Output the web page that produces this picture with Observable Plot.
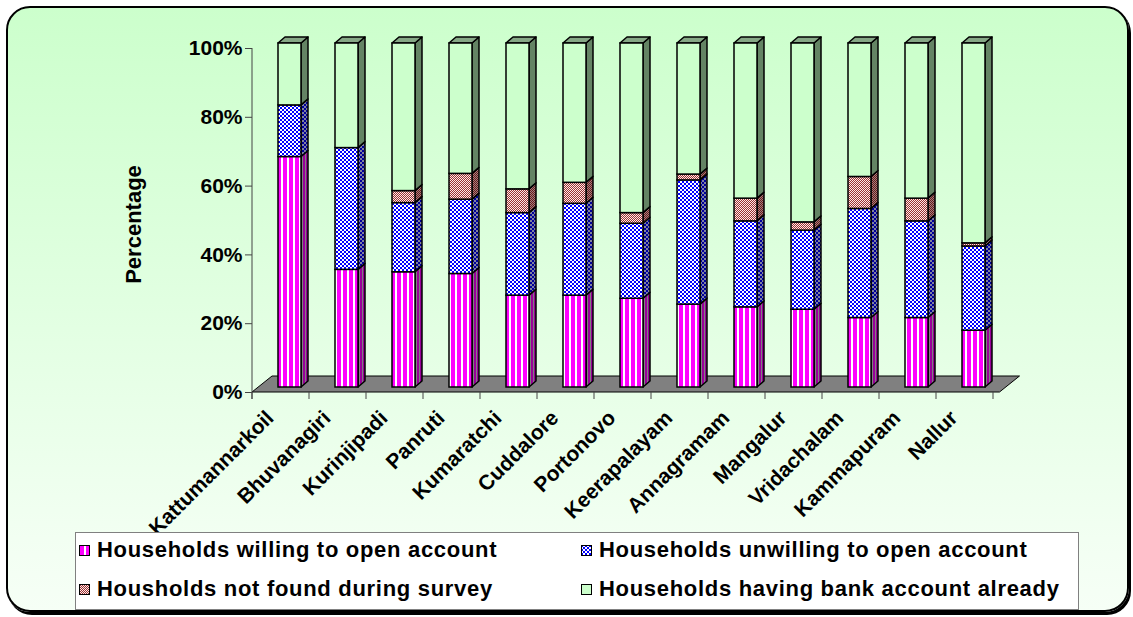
<!DOCTYPE html>
<html>
<head>
<meta charset="utf-8">
<script src="https://cdn.jsdelivr.net/npm/d3@7"></script>
<script src="https://cdn.jsdelivr.net/npm/@observablehq/plot@0.6"></script>
<style>
  body { margin: 0; background: #fff; }
  #stage { position: relative; width: 1133px; height: 617px; overflow: hidden;
           font-family: "Liberation Sans", Arial, sans-serif; }
  #frame { position: absolute; left: 6px; top: 6px; width: 1123px; height: 606px; box-sizing: border-box;
           border: 2px solid #000; border-radius: 24px;
           background: linear-gradient(#ccffcc 0%, #f2fff2 88%, #f6fff6 100%);
           box-shadow: 2px 3px 0 #000; }
  #chart { position: absolute; left: 0; top: 0; }
  #legend { position: absolute; left: 75px; top: 532px; width: 1004px; height: 78px; box-sizing: border-box;
            border: 1px solid #808080; background: #fff; }
  .item { position: absolute; height: 22px; display: flex; align-items: center; white-space: nowrap;
          font-weight: bold; font-size: 22px; letter-spacing: 0.7px; color: #000; }
  .item svg { margin-right: 7px; flex: none; }
</style>
</head>
<body>
<svg width="0" height="0" style="position:absolute">
  <defs>
    <pattern id="pWill" patternUnits="userSpaceOnUse" width="6" height="6">
      <rect width="6" height="6" fill="#ffffff"/><rect x="1" width="4" height="6" fill="#ff00ff"/>
    </pattern>
    <pattern id="pWillSide" patternUnits="userSpaceOnUse" width="3" height="3">
      <rect width="3" height="3" fill="#7f7f7f"/><rect width="2" height="3" fill="#990099"/>
    </pattern>
    <pattern id="pUnw" patternUnits="userSpaceOnUse" width="4" height="4">
      <rect width="4" height="4" fill="#ffffff"/>
      <rect width="2" height="2" fill="#0000ff"/><rect x="2" y="2" width="2" height="2" fill="#0000ff"/>
    </pattern>
    <pattern id="pUnwSide" patternUnits="userSpaceOnUse" width="4" height="4">
      <rect width="4" height="4" fill="#8080a0"/>
      <rect width="2" height="2" fill="#000099"/><rect x="2" y="2" width="2" height="2" fill="#000099"/>
    </pattern>
    <pattern id="pNF" patternUnits="userSpaceOnUse" width="2" height="2">
      <rect width="2" height="2" fill="#ffe8e8"/>
      <rect width="1" height="1" fill="#993333"/><rect x="1" y="1" width="1" height="1" fill="#993333"/>
    </pattern>
    <pattern id="pNFSide" patternUnits="userSpaceOnUse" width="2" height="2">
      <rect width="2" height="2" fill="#a08080"/>
      <rect width="1" height="1" fill="#6a1a1a"/><rect x="1" y="1" width="1" height="1" fill="#6a1a1a"/>
    </pattern>
  </defs>
</svg>

<div id="stage">
  <div id="frame"></div>
  <div id="chart"></div>
  <div id="legend"></div>
</div>

<script>
// Blocks surveyed
const places = ["Kattumannarkoil", "Bhuvanagiri", "Kurinjipadi", "Panruti", "Kumaratchi", "Cuddalore",
  "Portonovo", "Keerapalayam", "Annagramam", "Mangalur", "Vridachalam", "Kammapuram", "Nallur"];

// Share of households in each block (%)
const willing   = [67.0, 34.2, 33.5, 33.0, 26.7, 26.7, 25.8, 24.1, 23.3, 22.6, 20.2, 20.2, 16.5];
const unwilling = [15.0, 35.4, 20.1, 21.6, 24.0, 26.7, 21.8, 36.1, 25.0, 23.0, 31.7, 28.1, 24.5];
const notFound  = [ 0.0,  0.0,  3.5,  7.5,  6.9,  6.1,  3.1,  1.7,  6.6,  2.4,  9.3,  6.6,  0.9];
const having    = [18.0, 30.4, 42.9, 37.9, 42.4, 40.5, 49.3, 38.1, 45.1, 52.0, 38.8, 45.1, 58.1];

const seriesNames = [
  "Households willing to open account",
  "Households unwilling to open account",
  "Housholds not found during survey",
  "Households having bank account already"
];
const yTicks = [0, 0.2, 0.4, 0.6, 0.8, 1];

const seriesValues = [willing, unwilling, notFound, having];
const frontFills = ["url(#pWill)", "url(#pUnw)", "url(#pNF)", "#ccffcc"];
const sideFills  = ["url(#pWillSide)", "url(#pUnwSide)", "url(#pNFSide)", "#648464"];
const topFill = "#86a886";

// 3-D look: bar depth, bar lift off the front edge of the floor, floor depth
const DEPTH_X = 7, DEPTH_Y = 6, LIFT = 5, FLOOR_X = 20, FLOOR_Y = 16;
const INSET_L = 23, INSET_R = 11;

const rows = places.flatMap((p, i) =>
  seriesValues.map((arr, k) => ({place: p, series: seriesNames[k], value: arr[i] / 100}))
).filter(d => d.value > 0);

function bandwidthOf(x, dims) {
  return x.bandwidth ? x.bandwidth() : (dims.width - dims.marginLeft - dims.marginRight) / places.length;
}

// floor, value axis line and category ticks
function floorMark(index, scales, values, dims) {
  const {x, y} = scales;
  const bw = bandwidthOf(x, dims);
  const x0 = dims.marginLeft, x1 = dims.width - dims.marginRight, y0 = y(0);
  const g = d3.create("svg:g");
  g.append("path")
    .attr("d", `M${x0},${y0}L${x1},${y0}L${x1 + FLOOR_X},${y0 - FLOOR_Y}L${x0 + FLOOR_X},${y0 - FLOOR_Y}Z`)
    .attr("fill", "#808080").attr("stroke", "#000").attr("stroke-width", 1);
  g.append("line").attr("x1", x0).attr("x2", x0).attr("y1", y(1)).attr("y2", y0 + 7)
    .attr("stroke", "#444").attr("stroke-width", 1);
  for (let k = 0; k <= places.length; ++k) {
    const xx = x0 + k * bw;
    g.append("line").attr("x1", xx).attr("x2", xx).attr("y1", y0).attr("y2", y0 + 7)
      .attr("stroke", "#444").attr("stroke-width", 1);
  }
  return g.node();
}

// side and top faces of every stacked column
function depthMark(index, scales, values, dims) {
  const {x, y} = scales;
  const bw = bandwidthOf(x, dims);
  const g = d3.create("svg:g").attr("stroke", "#000").attr("stroke-width", 1.5).attr("stroke-linejoin", "round");
  places.forEach((p, i) => {
    const xl = x(p) + INSET_L, xr = x(p) + bw - INSET_R;
    let acc = 0;
    seriesValues.forEach((arr, k) => {
      const v = arr[i] / 100;
      if (v <= 0) return;
      const yb = y(acc) - LIFT, yt = y(acc + v) - LIFT;
      acc += v;
      g.append("path")
        .attr("d", `M${xr},${yb}L${xr + DEPTH_X},${yb - DEPTH_Y}L${xr + DEPTH_X},${yt - DEPTH_Y}L${xr},${yt}Z`)
        .attr("fill", sideFills[k]);
    });
    const yt = y(acc) - LIFT;
    g.append("path")
      .attr("d", `M${xl},${yt}L${xl + DEPTH_X},${yt - DEPTH_Y}L${xr + DEPTH_X},${yt - DEPTH_Y}L${xr},${yt}Z`)
      .attr("fill", topFill);
  });
  return g.node();
}

const chart = Plot.plot({
  width: 1133,
  height: 530,
  marginLeft: 252,
  marginRight: 133.5,
  marginTop: 48,
  marginBottom: 138,
  style: {background: "transparent", color: "#000", fontFamily: "'Liberation Sans', Arial, sans-serif", overflow: "visible"},
  x: {domain: places, type: "band", padding: 0, axis: null},
  y: {domain: [0, 1], axis: null},
  color: {domain: seriesNames, range: frontFills},
  marks: [
    floorMark,
    Plot.axisY({ticks: yTicks, tickFormat: d3.format(".0%"), tickSize: 7, tickPadding: 3,
      fontSize: 21, fontWeight: "bold", stroke: "#444", label: null}),
    depthMark,
    Plot.barY(rows, {x: "place", y: "value", fill: "series", order: seriesNames,
      stroke: "#000", strokeWidth: 1.5, insetLeft: INSET_L, insetRight: INSET_R, dy: -LIFT}),
    Plot.text(places, {x: d => d, y: () => 0, text: d => d, rotate: -45, textAnchor: "end",
      dx: -14, dy: 22, fontSize: 21, fontWeight: "bold", fill: "#000"}),
    Plot.text(["Percentage"], {frameAnchor: "left", textAnchor: "middle", text: d => d, rotate: -90,
      dx: -119, dy: 4, fontSize: 22, fontWeight: "bold", fill: "#000"})
  ]
});
document.getElementById("chart").appendChild(chart);

// legend: two rows, two columns
const legendPos = [[3, 6], [505, 6], [3, 45], [505, 45]];
const legend = d3.select("#legend");
seriesNames.forEach((name, k) => {
  const item = legend.append("div").attr("class", "item")
    .style("left", legendPos[k][0] + "px").style("top", legendPos[k][1] + "px");
  const sw = item.append("svg").attr("width", 11).attr("height", 11);
  sw.append("rect").attr("x", 0.5).attr("y", 0.5).attr("width", 10).attr("height", 10)
    .attr("fill", frontFills[k]).attr("stroke", "#000").attr("stroke-width", 1);
  item.append("span").text(name);
});
</script>
</body>
</html>
